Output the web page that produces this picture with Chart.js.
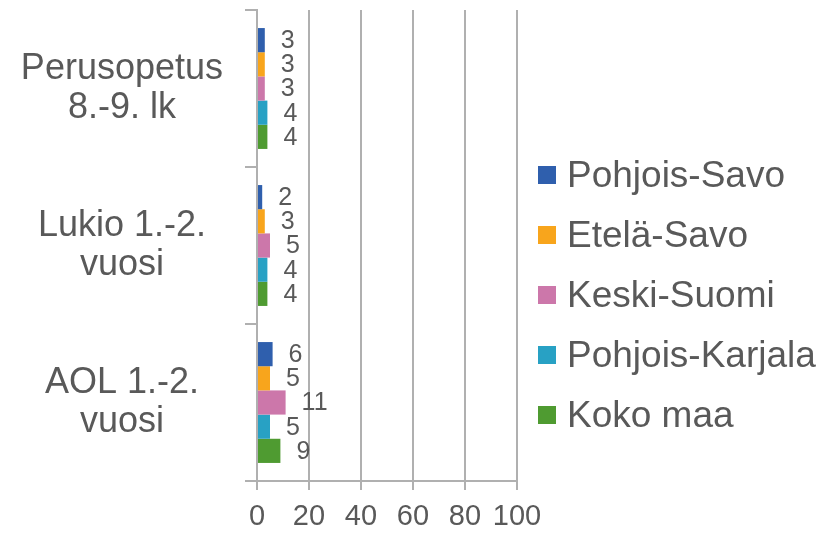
<!DOCTYPE html>
<html lang="fi">
<head>
    <meta charset="UTF-8">
    <title>Koulutusasteet</title>
    <script src="https://cdn.jsdelivr.net/npm/chart.js"></script>
    <style>
        body { margin: 0; background: #fff; font-family: 'Liberation Sans', Arial, sans-serif; }
        #wrap { position: relative; width: 823px; height: 534px; }
        #legend { position: absolute; left: 538px; top: 145px; color: #595959; font-size: 37px; }
        #legend .item { display: flex; align-items: center; height: 60px; white-space: nowrap; }
        #legend .box { width: 18px; height: 18px; margin-right: 11px; }
    </style>
</head>
<body>
<div id="wrap">
    <canvas id="chart" width="823" height="534"></canvas>
    <div id="legend"></div>
</div>
<script>
// data
const categories = [['Perusopetus', '8.-9. lk'], ['Lukio 1.-2.', 'vuosi'], ['AOL 1.-2.', 'vuosi']];
const seriesNames = ['Pohjois-Savo', 'Etelä-Savo', 'Keski-Suomi', 'Pohjois-Karjala', 'Koko maa'];
const pohjoisSavo = [3, 2, 6];
const etelaSavo = [3, 3, 5];
const keskiSuomi = [3, 5, 11];
const pohjoisKarjala = [4, 4, 5];
const kokoMaa = [4, 4, 9];
const xTicks = [0, 20, 40, 60, 80, 100];

const colors = ['#2f5fad', '#f8a51c', '#cc77aa', '#28a1c4', '#4f9b31'];
const allValues = [pohjoisSavo, etelaSavo, keskiSuomi, pohjoisKarjala, kokoMaa];
const textColor = '#595959';
const gridColor = '#b0b0b0';
const font = "'Liberation Sans', Arial, sans-serif";

// value labels just past the bar end
const valueLabels = {
    id: 'valueLabels',
    afterDatasetsDraw(chart) {
        const ctx = chart.ctx;
        ctx.save();
        ctx.fillStyle = textColor;
        ctx.font = '25px ' + font;
        ctx.textAlign = 'left';
        ctx.textBaseline = 'middle';
        chart.data.datasets.forEach((ds, i) => {
            chart.getDatasetMeta(i).data.forEach((bar, j) => {
                ctx.fillText(String(ds.data[j]), bar.x + 16, bar.y + 1);
            });
        });
        ctx.restore();
    }
};

new Chart(document.getElementById('chart'), {
    type: 'bar',
    data: {
        labels: categories,
        datasets: seriesNames.map((name, i) => ({
            label: name,
            data: allValues[i],
            backgroundColor: colors[i],
            barPercentage: 1,
            categoryPercentage: 0.77
        }))
    },
    options: {
        indexAxis: 'y',
        responsive: false,
        animation: false,
        layout: { padding: { top: 10, right: 306, bottom: 0, left: 0 } },
        plugins: { legend: { display: false }, tooltip: { enabled: false } },
        scales: {
            x: {
                min: 0, max: 100,
                afterBuildTicks(s) { s.ticks = xTicks.map(v => ({ value: v })); },
                afterFit(s) { s.height = 53; s.paddingBottom = 0; },
                grid: { color: gridColor, lineWidth: 2, tickLength: 9 },
                border: { color: gridColor, width: 2 },
                ticks: { color: textColor, font: { size: 29, family: font }, padding: 10, maxRotation: 0 }
            },
            y: {
                grid: { color: gridColor, lineWidth: 2, drawOnChartArea: false, tickLength: 12, offset: true },
                border: { color: gridColor, width: 2 },
                afterFit(s) { s.width = 257; s.paddingTop = 0; s.paddingBottom = 0; },
                ticks: { color: textColor, font: { size: 36, family: font, lineHeight: 1.08 }, padding: 22, crossAlign: 'center' }
            }
        }
    },
    plugins: [valueLabels]
});

// legend on the right
const legend = document.getElementById('legend');
seriesNames.forEach((name, i) => {
    const item = document.createElement('div');
    item.className = 'item';
    item.innerHTML = '<span class="box" style="background:' + colors[i] + '"></span><span>' + name + '</span>';
    legend.appendChild(item);
});
</script>
</body>
</html>
